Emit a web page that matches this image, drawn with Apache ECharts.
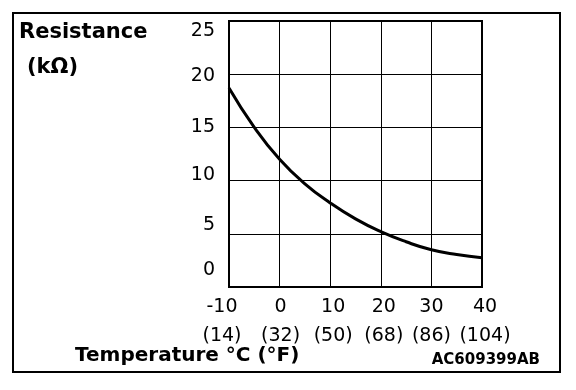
<!DOCTYPE html>
<html><head><meta charset="utf-8">
<script src="https://cdn.jsdelivr.net/npm/echarts@6/dist/echarts.min.js"></script>
<style>html,body{margin:0;padding:0;background:#fff}#c{width:576px;height:390px}</style>
</head><body><div id="c"></div>
<script>
// Data
var tempC = [-10, -5, 0, 5, 10, 15, 20, 25, 30, 35, 40];
var resistance = [18.7, 15.0, 12.0, 9.7, 7.9, 6.4, 5.2, 4.25, 3.5, 3.05, 2.75];
var xTickC = [-10, 0, 10, 20, 30, 40];
var xTickF = ['(14)', '(32)', '(50)', '(68)', '(86)', '(104)'];
var yTicks = [0, 5, 10, 15, 20, 25];

// Styling (label nudges)
var yShift = {0: -17, 5: -9, 10: -6, 15: 0, 20: 2, 25: 10};
var xShift = {'-10': -7, '0': 1, '10': 3, '20': 3, '30': 0, '40': 3};
var FONT = 'DejaVu Sans';
var TICK_SIZE = 19;

var yRich = {}, xRich = {};
yTicks.forEach(function(v){
  var d = yShift[v];
  yRich['y' + v] = {fontFamily: FONT, fontSize: TICK_SIZE, color: '#000',
    padding: d >= 0 ? [2*d, 0, 0, 0] : [0, 0, -2*d, 0]};
});
function xKey(v){ return 'a' + (v < 0 ? 'm' + (-v) : v); }
xTickC.forEach(function(v){
  var d = xShift[String(v)];
  var pad = d >= 0 ? [0, 0, 0, 2*d] : [0, -2*d, 0, 0];
  xRich[xKey(v)] = {fontFamily: FONT, fontSize: TICK_SIZE, color: '#000', lineHeight: 29, padding: pad};
});

var chart = echarts.init(document.getElementById('c'), null, {renderer: 'canvas'});
chart.setOption({
  animation: false,
  backgroundColor: '#fff',
  grid: {left: 229, top: 21, right: 94, bottom: 103, show: true, borderColor: '#000', borderWidth: 2},
  xAxis: {
    type: 'value', min: -10, max: 40, interval: 10,
    axisLine: {show: true, onZero: false, lineStyle: {color: '#000', width: 2}},
    axisTick: {show: false},
    splitLine: {show: true, lineStyle: {color: '#000', width: 1}},
    axisLabel: {
      margin: 6, showMinLabel: true, showMaxLabel: true, hideOverlap: false, interval: 0,
      formatter: function(v){
        var i = xTickC.indexOf(v);
        var k = xKey(v);
        return '{' + k + '|' + v + '}\n{' + k + '|' + xTickF[i] + '}';
      },
      rich: xRich
    }
  },
  yAxis: {
    type: 'value', min: 0, max: 25, interval: 5,
    axisLine: {show: true, onZero: false, lineStyle: {color: '#000', width: 2}},
    axisTick: {show: false},
    splitLine: {show: true, lineStyle: {color: '#000', width: 1}},
    axisLabel: {
      margin: 14, showMinLabel: true, showMaxLabel: true,
      formatter: function(v){ return '{y' + v + '|' + v + '}'; },
      rich: yRich
    }
  },
  series: [{
    type: 'line', smooth: true, symbol: 'none',
    lineStyle: {color: '#000', width: 3},
    data: tempC.map(function(t, i){ return [t, resistance[i]]; })
  }],
  graphic: [
    {type: 'rect', shape: {x: 13, y: 13, width: 547, height: 359}, style: {fill: 'none', stroke: '#000', lineWidth: 2}, silent: true},
    {type: 'text', x: 19, y: 33, style: {text: 'Resistance', font: 'bold 21px "DejaVu Sans"', fill: '#000', textVerticalAlign: 'middle'}},
    {type: 'text', x: 27, y: 68, style: {text: '(kΩ)', font: 'bold 21px "DejaVu Sans"', fill: '#000', textVerticalAlign: 'middle'}},
    {type: 'text', x: 75, y: 356, style: {text: 'Temperature °C (°F)', font: 'bold 20px "DejaVu Sans"', fill: '#000', textVerticalAlign: 'middle'}},
    {type: 'text', x: 540, y: 360, style: {text: 'AC609399AB', font: 'bold 15px "DejaVu Sans"', fill: '#000', textAlign: 'right', textVerticalAlign: 'middle'}}
  ]
});
</script></body></html>
